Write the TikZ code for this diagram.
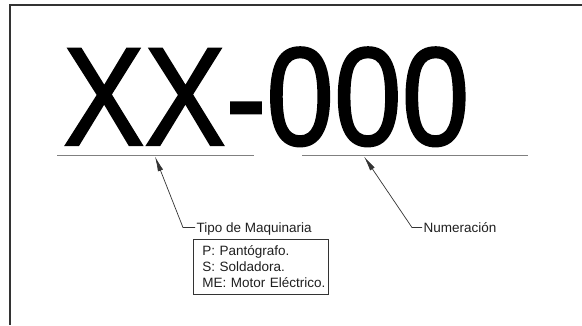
\documentclass[tikz,border=0pt]{standalone}
\usepackage{fontspec}
\usepackage{graphicx}
\setmainfont{Liberation Sans}
\newfontfamily\codefont[FakeBold=1.5]{Liberation Sans}
\usetikzlibrary{arrows.meta}
\begin{document}
\begin{tikzpicture}[x=1pt,y=-1pt,
  frameline/.style={draw=black!80, line width=1.3pt},
  underrule/.style={draw=black!50, line width=1.5pt},
  leader/.style={draw=black!80, line width=0.7pt, -{Latex[length=15pt,width=5.5pt]}},
  tag/.style={font=\fontsize{13.5}{16.3}\selectfont, text=black!88, inner xsep=1.5pt, inner ysep=0pt, anchor=base west},
  legend/.style={draw=black!80, line width=0.9pt, anchor=north west, inner xsep=0pt, inner ysep=6pt,
    text width=135pt, align=left, text=black!88, font=\fontsize{13.5}{16.3}\selectfont}]
\useasboundingbox (0,0) rectangle (582,325);

% sheet border
\draw[frameline] (582,5) -- (10,5) -- (10,325);

% code pattern
\node[inner sep=0pt, anchor=base west] (code) at (63,145)
  {\codefont\fontsize{140}{140}\selectfont\scalebox{0.87}[1]{XX-000}};

% rules under each field
\coordinate (u1a) at (57,155.5);
\coordinate (u1b) at (254,155.5);
\coordinate (u2a) at (302,155.5);
\coordinate (u2b) at (528,155.5);
\draw[underrule] (u1a) -- (u1b);
\draw[underrule] (u2a) -- (u2b);

% leader targets and bends
\coordinate (t1) at (155,156.5);
\coordinate (t2) at (364,156.5);
\coordinate (k1) at (183,227.5);
\coordinate (k2) at (412,227.5);

% field labels
\node[tag] (tipo) at (195,232) {Tipo de Maquinaria};
\node[tag] (num) at (422,232) {Numeración};

\draw[leader] ([yshift=4.5pt]tipo.base west) -- (k1) -- (t1);
\draw[leader] ([yshift=4.5pt]num.base west) -- (k2) -- (t2);

% machine type legend
\node[legend] (tipos) at (193,239)
  {\hspace*{9pt}P: Pantógrafo.\\
   \hspace*{9pt}S: Soldadora.\\
   \hspace*{9pt}ME: Motor Eléctrico.};
\end{tikzpicture}
\end{document}
